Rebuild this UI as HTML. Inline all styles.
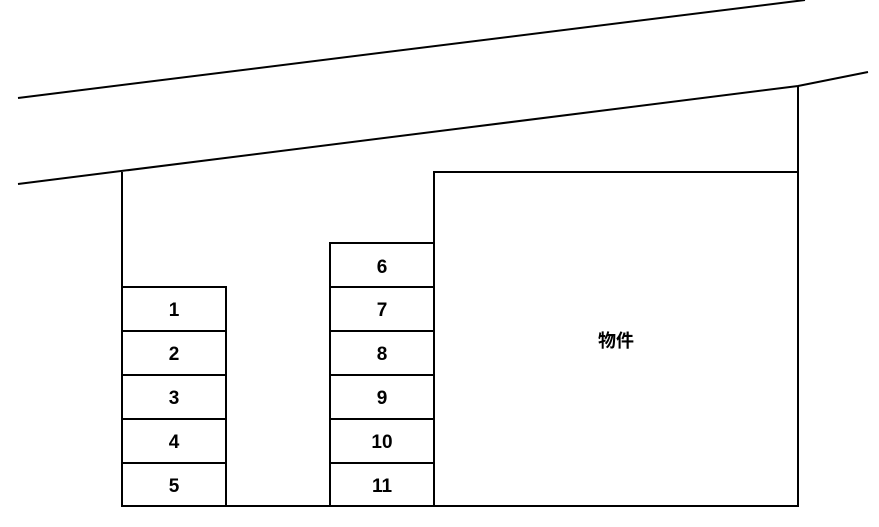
<!DOCTYPE html>
<html><head><meta charset="utf-8"><style>body{margin:0;background:#fff}</style></head><body>
<svg width="879" height="527" viewBox="0 0 879 527" xmlns="http://www.w3.org/2000/svg" style="display:block">
<g stroke="#000" stroke-width="2" fill="none">
<line x1="18" y1="98" x2="805" y2="0"/>
<polyline points="18,184 798,86 868,72"/>
<polyline points="122,172 122,506 798,506 798,86"/>
<polyline points="434,506 434,172 798,172"/>
<rect x="122" y="287" width="104" height="219"/>
<line x1="122" y1="331" x2="226" y2="331"/>
<line x1="122" y1="375" x2="226" y2="375"/>
<line x1="122" y1="419" x2="226" y2="419"/>
<line x1="122" y1="463" x2="226" y2="463"/>
<rect x="330" y="243" width="104" height="263"/>
<line x1="330" y1="287" x2="434" y2="287"/>
<line x1="330" y1="331" x2="434" y2="331"/>
<line x1="330" y1="375" x2="434" y2="375"/>
<line x1="330" y1="419" x2="434" y2="419"/>
<line x1="330" y1="463" x2="434" y2="463"/>
</g>
<g font-family="Liberation Sans, sans-serif" font-weight="bold" font-size="19" text-anchor="middle" fill="#000">
<text x="174" y="316">1</text><text x="174" y="360">2</text><text x="174" y="404">3</text><text x="174" y="448">4</text><text x="174" y="492">5</text>
<text x="382" y="273">6</text><text x="382" y="316">7</text><text x="382" y="360">8</text><text x="382" y="404">9</text><text x="382" y="448">10</text><text x="382" y="492">11</text>
<text x="616" y="347" font-family="Liberation Sans, Noto Sans CJK JP, sans-serif" font-size="18">物件</text>
</g>
</svg>
</body></html>
